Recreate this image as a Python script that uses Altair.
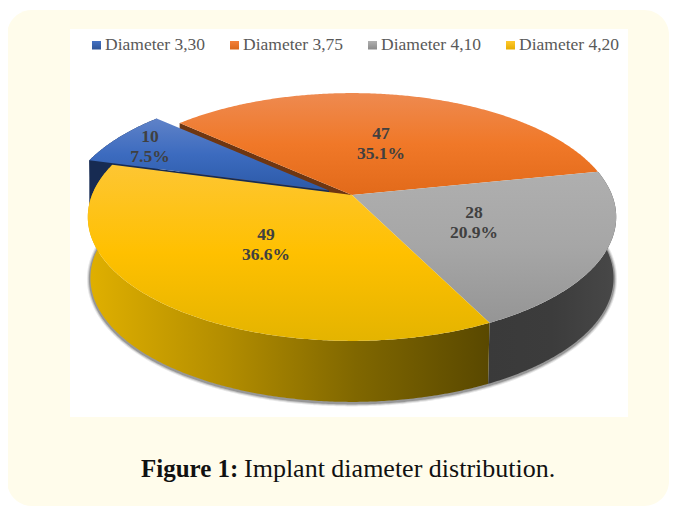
import numpy as np
import pandas as pd
import altair as alt

categories = ["Diameter 3,30", "Diameter 3,75", "Diameter 4,10", "Diameter 4,20"]
counts = [10, 47, 28, 49]
percents = ["7.5%", "35.1%", "20.9%", "36.6%"]
legend_x = [92, 230, 368, 506]
label_x = [150, 381, 474, 266]
label_y = [137, 134, 213, 235]
top_stops = [
    ["#5F82C8", "#3C6BBF", "#2C5AA8"],
    ["#EE8A50", "#F07828", "#E26A1A"],
    ["#AFAFAF", "#A6A6A6", "#959595"],
    ["#FDC633", "#FFC000", "#E4B400"],
]
legend_swatch = [("#4472C4", "#2F5597"), ("#F4803A", "#D9661A"), ("#B0B0B0", "#8A8A8A"), ("#FFC92E", "#E6AD00")]
wall_yellow = ["#E0B000", "#B48E00", "#806700", "#594800"]
wall_gray = ["#3A3A3A", "#3C3C3C", "#484848"]
wall_blue = "#172B52"
wall_orange = "#6E3612"

W, H = 661, 498
CX, CY, A, B, K = 352.0, 195.0, 260.0, 120.0, 0.1775
DEPTH, BOTTOM_SCALE = 61.0, 0.99
ORANGE_START = 312.1


def top_point(theta, dx=0.0, dy=0.0, drop=0.0, scale=1.0):
    t = np.radians(theta)
    u, v = np.sin(t), -np.cos(t)
    s = 1.0 / (1.0 - K * v)
    return CX + dx + A * u * s * scale, CY + dy + B * v * s + drop


def arc(a0, a1, **kw):
    th = np.linspace(a0, a1, int(abs(a1 - a0)) * 2 + 2)
    x, y = top_point(th, **kw)
    return list(zip(x, y))


def vertex(dx=0.0, dy=0.0, drop=0.0):
    return (CX + dx, CY + dy + drop)


def gradient(colors, horizontal=False):
    stops = [alt.GradientStop(color=c, offset=i / (len(colors) - 1)) for i, c in enumerate(colors)]
    return alt.LinearGradient(gradient="linear", stops=stops, x1=0, y1=0,
                              x2=1 if horizontal else 0, y2=0 if horizontal else 1)


xs = alt.X("x:Q", scale=alt.Scale(domain=[8, 8 + W]), axis=None)
ys = alt.Y("y:Q", scale=alt.Scale(domain=[8 + H, 8]), axis=None)


def frame(pts):
    return pd.DataFrame({"x": [p[0] for p in pts], "y": [p[1] for p in pts], "i": range(len(pts))})


def poly(pts, fill):
    pts = list(pts) + [pts[0]]
    return alt.Chart(frame(pts)).mark_line(fill=fill, strokeWidth=0).encode(
        x=xs, y=ys, order="i:Q")


def stroke(pts, color, width, opacity):
    return alt.Chart(frame(pts)).mark_line(color=color, strokeWidth=width, opacity=opacity).encode(
        x=xs, y=ys, order="i:Q")


def text(s, x, y, size, color, weight="normal", font="Liberation Serif", align="center"):
    return alt.Chart(pd.DataFrame({"x": [x], "y": [y], "t": [s]})).mark_text(
        font=font, fontSize=size, color=color, fontWeight=weight, align=align, baseline="alphabetic"
    ).encode(x=xs, y=ys, text="t:N")


total = sum(counts)
sweep = [c / total * 360 for c in counts]
o0 = ORANGE_START - 360
o1 = o0 + sweep[1]
g1 = o1 + sweep[2]
y1 = g1 + sweep[3]
b1 = y1 + sweep[0]
BLUE = dict(dx=-23.0, dy=-4.5)

layers = []
layers.append(alt.Chart(pd.DataFrame({"a": [0]})).mark_rect(color="#FFFCEB", cornerRadius=25).encode(
    x=alt.value(-1), x2=alt.value(W), y=alt.value(2), y2=alt.value(H)))
layers.append(alt.Chart(pd.DataFrame({"a": [0]})).mark_rect(color="#FFFFFF").encode(
    x=alt.value(62), x2=alt.value(620), y=alt.value(21), y2=alt.value(409)))

for name, lx, (c0, c1) in zip(categories, legend_x, legend_swatch):
    layers.append(poly([(lx, 41), (lx + 9, 41), (lx + 9, 49.5), (lx, 49.5)], gradient([c0, c1])))
    layers.append(text(name, lx + 13, 50, 17.5, "#595959", align="left"))

low = arc(g1 - 85, g1 + 122, drop=DEPTH, scale=BOTTOM_SCALE)
for w, op in [(7, 0.12), (5, 0.2), (3, 0.35)]:
    layers.append(stroke([(x, y + 1) for x, y in low], "#404040", w, op))

oa = arc(o0, o0)[0]
layers.append(poly([oa, vertex(), vertex(drop=DEPTH), (oa[0], oa[1] + DEPTH)], wall_orange))

ba = arc(y1, y1, **BLUE)[0]
v_b = vertex(**BLUE)
layers.append(poly([ba, v_b, vertex(drop=DEPTH, **BLUE), (ba[0], ba[1] + DEPTH)], wall_blue))
layers.append(poly(arc(y1, b1, **BLUE) + arc(b1, y1, drop=DEPTH, scale=BOTTOM_SCALE, **BLUE), wall_blue))
layers.append(poly(arc(y1, b1, **BLUE) + [v_b], gradient(top_stops[0])))

layers.append(poly(arc(o1, g1) + arc(g1, o1, drop=DEPTH, scale=BOTTOM_SCALE), gradient(wall_gray, True)))
layers.append(poly(arc(g1, y1) + arc(y1, g1, drop=DEPTH, scale=BOTTOM_SCALE), gradient(wall_yellow, True)))

layers.append(poly(arc(o0, o1) + [vertex()], gradient(top_stops[1])))
layers.append(poly(arc(o1, g1) + [vertex()], gradient(top_stops[2])))
layers.append(poly(arc(g1, y1) + [vertex()], gradient(top_stops[3])))

for n, p, lx, ly in zip(counts, percents, label_x, label_y):
    layers.append(text(str(n), lx, ly + 5, 17.5, "#404040", "bold"))
    layers.append(text(p, lx, ly + 25, 17.5, "#404040", "bold"))

layers.append(text("Figure 1:", 141, 477, 25, "#111111", "bold", align="left"))
layers.append(text("Implant diameter distribution.", 244, 477, 26, "#111111", align="left"))

chart = alt.layer(*layers).properties(
    width=W, height=H, padding=0, background="#FFFFFF",
    autosize=alt.AutoSizeParams(type="none"),
).configure_view(stroke=None)
chart.save("out.html", embed_options={"renderer": "svg", "actions": False})
